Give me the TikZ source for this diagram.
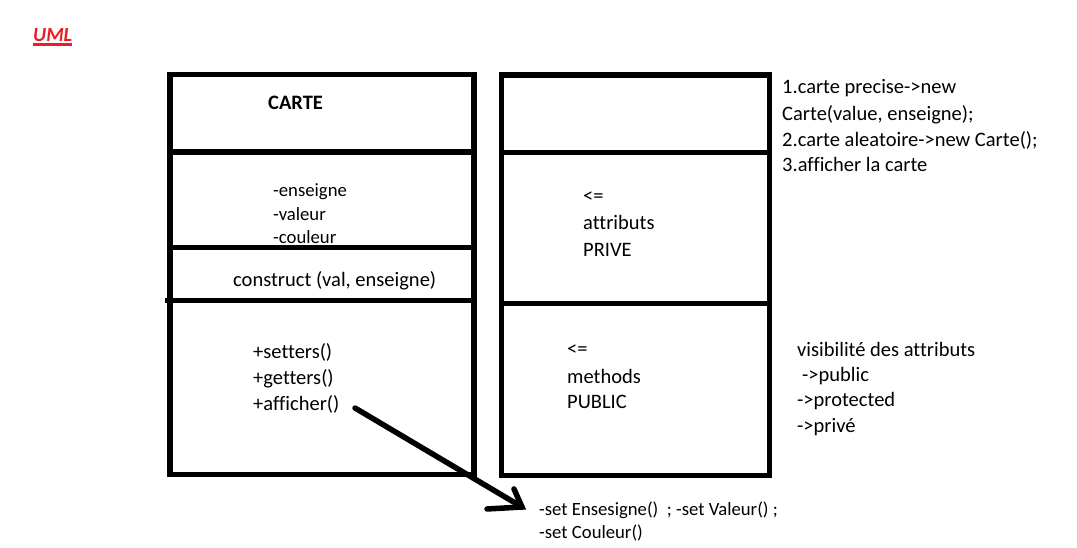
\documentclass[tikz,border=0pt]{standalone}
\usepackage{fontspec}
\setmainfont{Carlito}[Ligatures={NoCommon}]
\definecolor{umlred}{RGB}{237,28,36}
\begin{document}
\begin{tikzpicture}[x=1pt,y=-1pt,
  boxline/.style={line width=5.5pt},
  txt/.style={anchor=base west, inner sep=0pt, font=\fontsize{20.5}{25}\selectfont},
  smalltxt/.style={anchor=base west, inner sep=0pt, font=\fontsize{18.7}{23}\selectfont},
  arrowline/.style={line width=5.5pt, line cap=round}]
\useasboundingbox (0,0) rectangle (1077,548);
\fill[white] (0,0) rectangle (1077,548);

% title
\node[txt, text=umlred, font=\fontsize{20}{24}\selectfont\bfseries\itshape] (uml) at (33,42) {UML};
\draw[umlred, line width=2.5pt] ([yshift=-2.5pt]uml.base west) -- ([yshift=-2.5pt]uml.base east);

% left class box
\draw[boxline] (170,74.5) rectangle (474,474.5);
\draw[boxline] (172,152) -- (474,152);
\draw[boxline] (170,247.5) -- (474,247.5);
\draw[boxline] (165,300.5) -- (474,300.5);

% right box
\draw[boxline] (501.5,75) rectangle (769.5,475.5);
\draw[boxline] (501.5,152.5) -- (769.5,152.5);
\draw[boxline] (501.5,303.5) -- (769.5,303.5);

% left box text
\node[txt, font=\fontsize{20.5}{25}\selectfont\bfseries] (carte) at (268,110) {CARTE};
\node[smalltxt] (a1) at (273,197) {-enseigne};
\node[smalltxt] (a2) at (273,220.5) {-valeur};
\node[smalltxt] (a3) at (273,243.5) {-couleur};
\node[txt] (ctor) at (233,287) {construct (val, enseigne)};
\node[txt] (m1) at (253,358) {+setters()};
\node[txt] (m2) at (253,384) {+getters()};
\node[txt] (m3) at (253,410) {+afficher()};

% right box text
\node[txt] (r1) at (583,203) {<=};
\node[txt] (r2) at (583,230) {attributs};
\node[txt] (r3) at (583,256.5) {PRIVE};
\node[txt] (r4) at (567,355) {<=};
\node[txt] (r5) at (567,383) {methods};
\node[txt] (r6) at (567,408) {PUBLIC};

% notes on the right
\node[txt] (n1) at (782,94) {1.carte precise->new};
\node[txt] (n2) at (782,121) {Carte(value, enseigne);};
\node[txt] (n3) at (782,147) {2.carte aleatoire->new Carte();};
\node[txt] (n4) at (782,172) {3.afficher la carte};

\node[txt] (v1) at (797,356) {visibilité des attributs};
\node[txt] (v2) at (802,381.5) {->public};
\node[txt] (v3) at (797,406.5) {->protected};
\node[txt] (v4) at (797,432) {->privé};

% bottom text
\node[smalltxt] (b1) at (539,515) {-set Ensesigne()\ \ ; -set Valeur() ;};
\node[smalltxt] (b2) at (539,538) {-set Couleur()};

% arrow
\coordinate (astart) at (355,408);
\coordinate (atip) at (522,507);
\coordinate (wing1) at (514,489);
\coordinate (wing2) at (487,509);
\draw[arrowline] (astart) -- (atip);
\draw[arrowline] (wing1) -- (atip) -- (wing2);
\end{tikzpicture}
\end{document}
